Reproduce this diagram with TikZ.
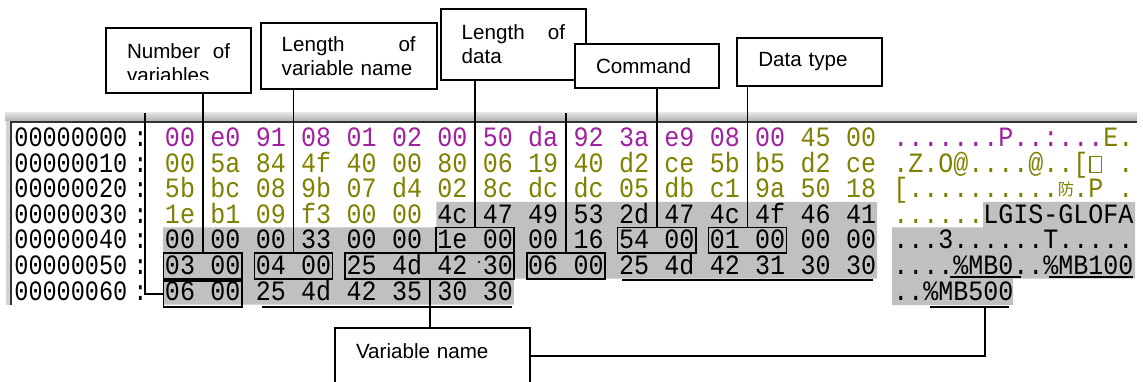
\documentclass[tikz,border=0pt]{standalone}
\usepackage{fontspec}
\setmainfont{Liberation Sans}
\newfontfamily\hexfont{Liberation Mono}[FakeStretch=0.893]
\newfontfamily\addrfont{Liberation Mono}[FakeStretch=0.84]
\newfontfamily\cjkfont{Noto Sans CJK SC}
\usetikzlibrary{positioning,calc,fit}

\definecolor{hexmag}{RGB}{160,32,160}
\definecolor{hexoli}{RGB}{128,128,0}
\definecolor{selgray}{RGB}{192,192,192}

\newcommand{\tofubox}{\makebox[7.5pt]{\fboxsep=0pt\fboxrule=0.6pt\fbox{\rule{0pt}{7.6pt}\hspace{5.3pt}}}}
\newcommand{\fangchar}{\makebox[7.5pt][c]{\cjkfont\fontsize{8.2}{8.2}\selectfont\raisebox{0.9pt}{防}}}

\tikzset{
  hexbyte/.style={inner sep=0pt, minimum width=16pt, minimum height=12.5pt,
    font=\hexfont\fontsize{14}{14}\selectfont, text height=8.6pt, text depth=0pt},
  asciirow/.style={anchor=west, inner sep=0pt,
    font=\hexfont\fontsize{14}{14}\selectfont, text height=8.6pt, text depth=0pt},
  addr/.style={anchor=west, inner sep=0pt,
    font=\addrfont\fontsize{14}{14}\selectfont, text height=8.6pt, text depth=0pt},
  bytebox/.style={draw, line width=0.8pt, inner sep=0pt},
  callout/.style={draw, fill=white, line width=0.9pt, inner sep=0pt, align=left,
    font=\fontsize{10.3}{12}\selectfont},
  link/.style={line width=0.9pt},
  uline/.style={line width=0.9pt}
}

\begin{document}
\begin{tikzpicture}[x=0.5pt, y=-0.5pt]
\useasboundingbox (0,0) rectangle (1143,381);
\clip (0,0) rectangle (1143,381);

% window frame
\shade[top color=gray!20, bottom color=gray!60] (5,112.3) rectangle (1137,120.5);
\fill[gray!35] (5.5,120.5) rectangle (9.5,305);
\fill[black!80] (9.5,120.5) rectangle (1137,123);
\fill[black!80] (9.5,120.5) rectangle (11.5,305);

% selected bytes
\fill[selgray] (436.4,201.8) -- (877,201.8) -- (877,278.6) -- (513.8,278.6) -- (513.8,304.6)
  -- (163,304.6) -- (163,227.4) -- (436.4,227.4) -- cycle;
\fill[selgray] (983,201.8) -- (1135,201.8) -- (1135,278.6) -- (1013,278.6) -- (1013,305)
  -- (892,305) -- (892,227.4) -- (983,227.4) -- cycle;

% offsets
\foreach \rw in {0,...,6}
  \node[addr] (ad\rw) at (14,{137.8+25.6*\rw}) {000000\rw0\kern3pt:};

% hex bytes
\foreach \rw/\ncol/\ca/\cb/\bytes in {
  0/14/hexmag/hexoli/{00,e0,91,08,01,02,00,50,da,92,3a,e9,08,00,45,00},
  1/16/hexoli/hexoli/{00,5a,84,4f,40,00,80,06,19,40,d2,ce,5b,b5,d2,ce},
  2/16/hexoli/hexoli/{5b,bc,08,9b,07,d4,02,8c,dc,dc,05,db,c1,9a,50,18},
  3/6/hexoli/black/{1e,b1,09,f3,00,00,4c,47,49,53,2d,47,4c,4f,46,41},
  4/0/black/black/{00,00,00,33,00,00,1e,00,00,16,54,00,01,00,00,00},
  5/0/black/black/{03,00,04,00,25,4d,42,30,06,00,25,4d,42,31,30,30},
  6/0/black/black/{06,00,25,4d,42,35,30,30}}
  \foreach \by [count=\cl from 0] in \bytes {
    \ifnum\cl<\ncol \def\bcol{\ca}\else\def\bcol{\cb}\fi
    \node[hexbyte, text=\bcol] (b\rw-\cl) at ({180+45.4*\cl},{137.8+25.6*\rw}) {\by};
  }

% ascii column
\node[asciirow] (as0) at (893,137.8) {\color{hexmag}.......P..:...\color{hexoli}E.};
\node[asciirow] (as1) at (893,163.4) {\color{hexoli}.Z.O@....@..[\tofubox\hspace{7.5pt}.};
\node[asciirow] (as2) at (893,189) {\color{hexoli}[..........\fangchar.P\hspace{7.5pt}.};
\node[asciirow] (as3) at (893,214.6) {\color{hexoli}......\color{black}LGIS-GLOFA};
\node[asciirow] (as4) at (893,240.2) {...3......T.....};
\node[asciirow] (as5) at (893,265.8) {....\%MB0..\%MB100};
\node[asciirow] (as6) at (893,291.4) {..\%MB500};

% framed fields
\node[bytebox, fit=(b4-6)(b4-7)] (lenbox) {};
\node[bytebox, fit=(b4-10)(b4-11)] (cmdbox) {};
\node[bytebox, fit=(b4-12)(b4-13)] (typebox) {};
\node[bytebox, fit=(b5-0)(b5-1)] (nvarbox) {};
\node[bytebox, fit=(b5-2)(b5-3)] (nlenbox) {};
\node[bytebox, fit=(b5-4)(b5-7)] (namebox) {};
\node[bytebox, fit=(b5-8)(b5-9)] (nlen2box) {};
\node[bytebox, fit=(b6-0)(b6-1), yshift=-1.2pt] (nlen3box) {};

% underlines
\draw[uline] ([xshift=2pt,yshift=-0.7pt]b5-10.south west) -- ([xshift=-2pt,yshift=-0.7pt]b5-15.south east);
\draw[uline] ([xshift=4pt,yshift=-1.4pt]b6-2.south west) -- ([xshift=-1pt,yshift=-1.4pt]b6-7.south east);
\draw[uline] (950,277) -- (1021,277);
\draw[uline] (1049,277) -- (1133,277);
\coordinate (mb5a) at (930,306.7);
\coordinate (mb5b) at (1009,306.7);
\draw[uline] (mb5a) -- (mb5b);
\fill (479,262) circle (0.6pt);

% callouts
\node[callout, text width=51.5pt, minimum width=72.5pt, minimum height=32.2pt] (nvar) at (178.5,60.5) {};
\begin{scope}
  \clip (106,28) rectangle (251,79.5);
  \node[callout, draw=none, fill=none, text width=51.5pt] (nvartxt) at (178.5,63) {Number\hfill of\\variables};
\end{scope}
\node[callout, text width=67pt, minimum width=88pt, minimum height=33.15pt] (vlen) at (348.7,55.85) {Length\hfill of\\variable name};
\node[callout, text width=51.65pt, minimum width=72.35pt, minimum height=35.5pt] (dlen) at (513.35,44.5) {Length\hfill of\\data};
\node[callout, text width=51pt, minimum width=72pt, minimum height=22pt] (cmd) at (647,66.3) {Command};
\node[callout, text width=51.5pt, minimum width=72.5pt, minimum height=24pt] (dtype) at (809.8,61.7) {Data type};
\node[callout, text width=76.5pt, minimum width=97.5pt, minimum height=27.35pt, text depth=4.2pt] (vname) at (432.5,355.65) {Variable name};

% leaders
\coordinate (tap) at (145,113);
\draw[link] (nvarbox.north |- nvar.south) -- (nvarbox.north);
\draw[link] (nlenbox.north |- vlen.south) -- (nlenbox.north);
\draw[link] (lenbox.north |- dlen.south) -- (lenbox.north);
\draw[link] (nlen2box.north |- tap) -- (nlen2box.north);
\draw[link] (cmdbox.north |- cmd.south) -- (cmdbox.north);
\draw[link] (typebox.north |- dtype.south) -- (typebox.north);
\draw[link] (tap) |- (nlen3box.west);
\draw[link] (namebox.south) -- (namebox.south |- vname.north);
\coordinate (mbjoin) at ($(mb5a)!0.7!(mb5b)$);
\draw[link] (vname.east) -| (mbjoin);
\end{tikzpicture}
\end{document}
